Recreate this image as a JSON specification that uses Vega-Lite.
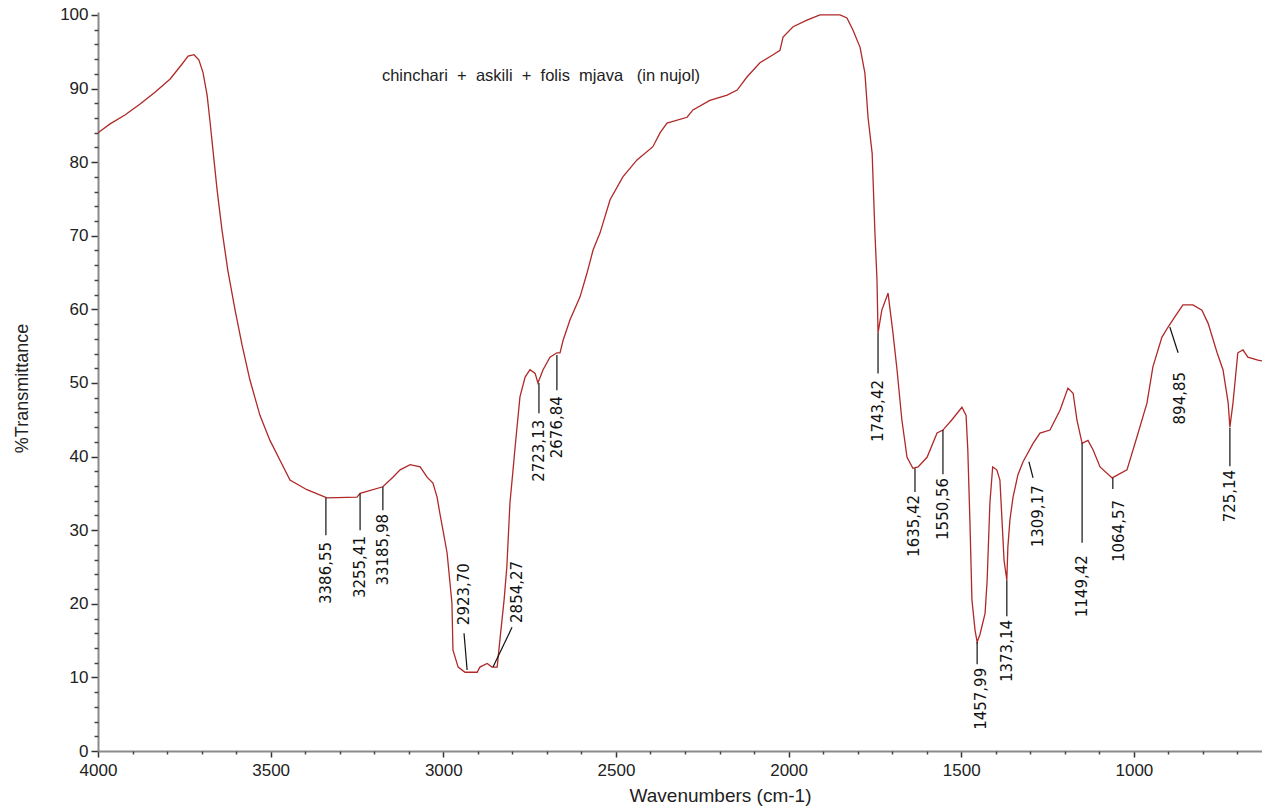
{
  "$schema": "https://vega.github.io/schema/vega-lite/v6.json",
  "width": 1164,
  "height": 739,
  "autosize": {"type": "none"},
  "padding": {"left": 98, "top": 12, "right": 0, "bottom": 55},
  "background": "white",
  "config": {"view": {"stroke": null}, "font": "Liberation Sans"},
  "datasets": {
    "spectrum": [
      {"wn":4000,"t":84.0},{"wn":3965,"t":85.2},{"wn":3922,"t":86.4},{"wn":3878,"t":87.9},{"wn":3835,"t":89.5},{"wn":3791,"t":91.3},{"wn":3757,"t":93.3},{"wn":3739,"t":94.4},{"wn":3722,"t":94.6},{"wn":3708,"t":93.9},{"wn":3696,"t":92.2},{"wn":3684,"t":89.1},{"wn":3676,"t":85.7},{"wn":3667,"t":81.6},{"wn":3655,"t":76.2},{"wn":3641,"t":70.8},{"wn":3624,"t":65.3},{"wn":3603,"t":59.9},{"wn":3583,"t":55.2},{"wn":3560,"t":50.4},{"wn":3531,"t":45.6},{"wn":3502,"t":42.2},{"wn":3473,"t":39.5},{"wn":3444,"t":36.8},{"wn":3395,"t":35.5},{"wn":3337,"t":34.4},{"wn":3250,"t":34.5},{"wn":3241,"t":35.0},{"wn":3175,"t":35.9},{"wn":3146,"t":37.2},{"wn":3125,"t":38.2},{"wn":3096,"t":38.9},{"wn":3067,"t":38.6},{"wn":3047,"t":37.2},{"wn":3030,"t":36.4},{"wn":3018,"t":34.5},{"wn":3010,"t":32.3},{"wn":3001,"t":30.0},{"wn":2989,"t":26.9},{"wn":2975,"t":20.1},{"wn":2972,"t":13.7},{"wn":2957,"t":11.4},{"wn":2937,"t":10.7},{"wn":2902,"t":10.7},{"wn":2894,"t":11.4},{"wn":2873,"t":11.9},{"wn":2859,"t":11.4},{"wn":2844,"t":11.4},{"wn":2836,"t":15.1},{"wn":2824,"t":20.5},{"wn":2816,"t":25.0},{"wn":2807,"t":33.7},{"wn":2798,"t":38.2},{"wn":2792,"t":41.3},{"wn":2778,"t":48.1},{"wn":2763,"t":50.8},{"wn":2749,"t":51.8},{"wn":2734,"t":51.3},{"wn":2726,"t":50.0},{"wn":2711,"t":51.8},{"wn":2691,"t":53.5},{"wn":2671,"t":54.1},{"wn":2662,"t":54.1},{"wn":2653,"t":55.8},{"wn":2633,"t":58.6},{"wn":2604,"t":61.7},{"wn":2584,"t":64.9},{"wn":2566,"t":68.1},{"wn":2546,"t":70.4},{"wn":2517,"t":74.9},{"wn":2480,"t":78.0},{"wn":2439,"t":80.3},{"wn":2393,"t":82.1},{"wn":2372,"t":84.0},{"wn":2352,"t":85.3},{"wn":2294,"t":86.1},{"wn":2277,"t":87.1},{"wn":2228,"t":88.4},{"wn":2178,"t":89.1},{"wn":2149,"t":89.8},{"wn":2120,"t":91.6},{"wn":2083,"t":93.5},{"wn":2045,"t":94.6},{"wn":2025,"t":95.2},{"wn":2016,"t":97.0},{"wn":1987,"t":98.4},{"wn":1947,"t":99.3},{"wn":1909,"t":100.0},{"wn":1851,"t":100.0},{"wn":1831,"t":99.6},{"wn":1814,"t":98.0},{"wn":1793,"t":95.6},{"wn":1779,"t":92.1},{"wn":1770,"t":86.1},{"wn":1758,"t":81.2},{"wn":1750,"t":70.4},{"wn":1744,"t":64.0},{"wn":1741,"t":56.8},{"wn":1730,"t":59.9},{"wn":1712,"t":62.2},{"wn":1698,"t":56.9},{"wn":1686,"t":51.8},{"wn":1672,"t":45.0},{"wn":1657,"t":39.9},{"wn":1640,"t":38.4},{"wn":1625,"t":38.6},{"wn":1599,"t":39.9},{"wn":1570,"t":43.2},{"wn":1553,"t":43.6},{"wn":1527,"t":45.0},{"wn":1498,"t":46.7},{"wn":1486,"t":45.6},{"wn":1481,"t":40.9},{"wn":1475,"t":31.4},{"wn":1469,"t":20.5},{"wn":1460,"t":16.4},{"wn":1454,"t":14.8},{"wn":1446,"t":15.8},{"wn":1431,"t":18.7},{"wn":1425,"t":23.2},{"wn":1417,"t":33.7},{"wn":1409,"t":38.6},{"wn":1397,"t":38.2},{"wn":1388,"t":36.8},{"wn":1382,"t":31.4},{"wn":1376,"t":25.9},{"wn":1368,"t":23.2},{"wn":1365,"t":27.7},{"wn":1359,"t":31.4},{"wn":1350,"t":34.5},{"wn":1336,"t":37.5},{"wn":1321,"t":39.3},{"wn":1292,"t":41.8},{"wn":1272,"t":43.2},{"wn":1243,"t":43.6},{"wn":1214,"t":46.3},{"wn":1191,"t":49.3},{"wn":1176,"t":48.6},{"wn":1165,"t":45.0},{"wn":1150,"t":41.8},{"wn":1133,"t":42.2},{"wn":1118,"t":40.9},{"wn":1098,"t":38.6},{"wn":1063,"t":37.1},{"wn":1020,"t":38.2},{"wn":991,"t":42.7},{"wn":962,"t":47.3},{"wn":945,"t":52.2},{"wn":919,"t":56.2},{"wn":901,"t":57.6},{"wn":881,"t":59.0},{"wn":858,"t":60.6},{"wn":829,"t":60.6},{"wn":803,"t":59.9},{"wn":785,"t":58.1},{"wn":759,"t":54.1},{"wn":742,"t":51.8},{"wn":727,"t":47.3},{"wn":722,"t":44.0},{"wn":713,"t":47.3},{"wn":699,"t":54.1},{"wn":684,"t":54.5},{"wn":670,"t":53.5},{"wn":641,"t":53.1},{"wn":629,"t":53.0}
    ],
    "peaks": [
      {"label":"3386,55","wn":3340,"v1":34.4,"wn2":3340,"v2":29.3,"tx":3340,"ty":28.4,"dir":"down"},
      {"label":"3255,41","wn":3241,"v1":35.0,"wn2":3241,"v2":30.0,"tx":3241,"ty":29.2,"dir":"down"},
      {"label":"33185,98","wn":3175,"v1":35.9,"wn2":3175,"v2":32.7,"tx":3175,"ty":32.2,"dir":"down"},
      {"label":"2923,70","wn":2931,"v1":11.0,"wn2":2940,"v2":16.0,"tx":2940,"ty":17.1,"dir":"up"},
      {"label":"2854,27","wn":2856,"v1":11.4,"wn2":2801,"v2":16.8,"tx":2787,"ty":17.4,"dir":"up"},
      {"label":"2723,13","wn":2723,"v1":50.0,"wn2":2723,"v2":45.9,"tx":2724,"ty":45.0,"dir":"down"},
      {"label":"2676,84","wn":2671,"v1":53.8,"wn2":2671,"v2":49.0,"tx":2671,"ty":48.2,"dir":"down"},
      {"label":"1743,42","wn":1741,"v1":56.8,"wn2":1741,"v2":51.3,"tx":1742,"ty":50.4,"dir":"down"},
      {"label":"1635,42","wn":1634,"v1":38.4,"wn2":1634,"v2":35.2,"tx":1638,"ty":34.8,"dir":"down"},
      {"label":"1550,56","wn":1553,"v1":43.6,"wn2":1553,"v2":37.6,"tx":1554,"ty":37.1,"dir":"down"},
      {"label":"1457,99","wn":1454,"v1":14.8,"wn2":1454,"v2":11.8,"tx":1444,"ty":11.3,"dir":"down"},
      {"label":"1373,14","wn":1368,"v1":23.2,"wn2":1368,"v2":18.3,"tx":1368,"ty":17.8,"dir":"down"},
      {"label":"1309,17","wn":1304,"v1":39.3,"wn2":1292,"v2":37.1,"tx":1278,"ty":36.1,"dir":"down"},
      {"label":"1149,42","wn":1150,"v1":41.8,"wn2":1150,"v2":28.3,"tx":1150,"ty":26.6,"dir":"down"},
      {"label":"1064,57","wn":1061,"v1":37.1,"wn2":1061,"v2":35.6,"tx":1043,"ty":34.1,"dir":"down"},
      {"label":"894,85","wn":896,"v1":57.6,"wn2":872,"v2":54.1,"tx":867,"ty":51.5,"dir":"down"},
      {"label":"725,14","wn":722,"v1":43.9,"wn2":722,"v2":38.7,"tx":722,"ty":38.2,"dir":"down"}
    ]
  },
  "resolve": {"axis": {"x": "independent", "y": "independent"}},
  "layer": [
    {
      "data": {"name": "spectrum"},
      "mark": {"type": "line", "color": "#b02828", "strokeWidth": 1.3, "clip": true},
      "encoding": {
        "x": {
          "field": "wn", "type": "quantitative",
          "scale": {"domain": [629, 4000], "reverse": true, "nice": false, "zero": false},
          "axis": {
            "orient": "bottom", "values": [1000, 1500, 2000, 2500, 3000, 3500, 4000], "format": "d",
            "grid": false, "domainColor": "#8a8a8a", "domainWidth": 2,
            "tickColor": "#333333", "tickSize": 6, "tickWidth": 1.5,
            "labelFontSize": 17, "labelColor": "#222222", "labelPadding": 5, "labelFlush": false, "labelOverlap": false,
            "title": "Wavenumbers (cm-1)", "titleFontSize": 19, "titleFontWeight": "normal", "titleColor": "#222222",
            "titleX": 622, "titleY": 44, "titleAlign": "center", "titleBaseline": "middle"
          }
        },
        "y": {
          "field": "t", "type": "quantitative",
          "scale": {"domain": [0, 100.4], "nice": false, "zero": false},
          "axis": {
            "orient": "left", "values": [0, 10, 20, 30, 40, 50, 60, 70, 80, 90, 100],
            "grid": false, "domainColor": "#8a8a8a", "domainWidth": 2,
            "tickColor": "#333333", "tickSize": 7, "tickWidth": 1.5,
            "labelFontSize": 17, "labelColor": "#222222", "labelPadding": 3, "labelFlush": false, "labelOverlap": false,
            "title": "%Transmittance", "titleFontSize": 18, "titleFontWeight": "normal", "titleColor": "#222222",
            "titleX": -76, "titleY": 376, "titleAlign": "center", "titleBaseline": "middle", "titleAngle": 270
          }
        }
      }
    },
    {
      "data": {"name": "spectrum"},
      "mark": {"type": "line", "opacity": 0},
      "encoding": {
        "x": {
          "field": "wn", "type": "quantitative",
          "axis": {
            "orient": "bottom", "values": [700, 800, 900, 1100, 1200, 1300, 1400, 1600, 1700, 1800, 1900, 2100, 2200, 2300, 2400, 2600, 2700, 2800, 2900, 3100, 3200, 3300, 3400, 3600, 3700, 3800, 3900],
            "labels": false, "domain": false, "grid": false, "title": null,
            "tickColor": "#444444", "tickSize": 3, "tickWidth": 1.5
          }
        },
        "y": {
          "field": "t", "type": "quantitative",
          "axis": {
            "orient": "left", "values": [2, 4, 6, 8, 12, 14, 16, 18, 22, 24, 26, 28, 32, 34, 36, 38, 42, 44, 46, 48, 52, 54, 56, 58, 62, 64, 66, 68, 72, 74, 76, 78, 82, 84, 86, 88, 92, 94, 96, 98],
            "labels": false, "domain": false, "grid": false, "title": null,
            "tickColor": "#444444", "tickSize": 4, "tickWidth": 1.5
          }
        }
      }
    },
    {
      "data": {"name": "peaks"},
      "mark": {"type": "rule", "color": "#111111", "strokeWidth": 1.2},
      "encoding": {
        "x": {"field": "wn", "type": "quantitative", "axis": null},
        "x2": {"field": "wn2"},
        "y": {"field": "v1", "type": "quantitative", "axis": null},
        "y2": {"field": "v2"}
      }
    },
    {
      "data": {"name": "peaks"},
      "transform": [{"filter": "datum.dir === 'down'"}],
      "mark": {"type": "text", "angle": 270, "align": "right", "baseline": "middle", "font": "DejaVu Sans", "fontSize": 15, "color": "#111111"},
      "encoding": {
        "x": {"field": "tx", "type": "quantitative", "axis": null},
        "y": {"field": "ty", "type": "quantitative", "axis": null},
        "text": {"field": "label"}
      }
    },
    {
      "data": {"name": "peaks"},
      "transform": [{"filter": "datum.dir === 'up'"}],
      "mark": {"type": "text", "angle": 270, "align": "left", "baseline": "middle", "font": "DejaVu Sans", "fontSize": 15, "color": "#111111"},
      "encoding": {
        "x": {"field": "tx", "type": "quantitative", "axis": null},
        "y": {"field": "ty", "type": "quantitative", "axis": null},
        "text": {"field": "label"}
      }
    },
    {
      "data": {"values": [{}]},
      "mark": {"type": "text", "text": "chinchari\u00a0\u00a0+\u00a0\u00a0askili\u00a0\u00a0+\u00a0\u00a0folis\u00a0\u00a0mjava\u00a0\u00a0\u00a0(in\u00a0nujol)", "align": "center", "baseline": "alphabetic", "font": "Liberation Sans", "fontSize": 16.5, "color": "#222222"},
      "encoding": {
        "x": {"datum": 2717, "type": "quantitative", "axis": null},
        "y": {"datum": 91.0, "type": "quantitative", "axis": null}
      }
    }
  ]
}
